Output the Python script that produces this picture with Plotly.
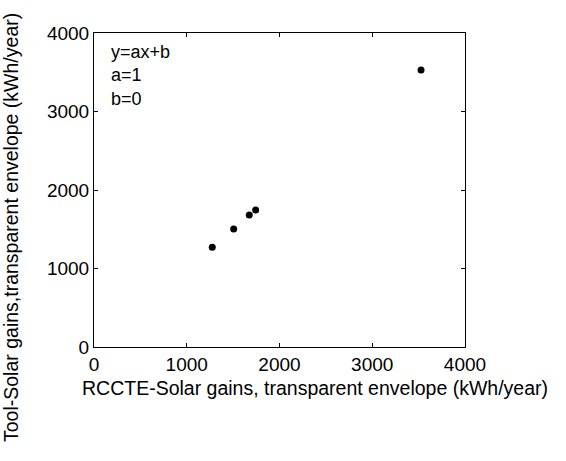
import plotly.graph_objects as go

# Solar gains through the transparent envelope (kWh/year)
rccte_gains = [1275, 1506, 1674, 1743, 3526]
tool_gains = [1272, 1503, 1682, 1745, 3529]

tick_vals = [0, 1000, 2000, 3000, 4000]
tick_text = ["0", "1000", "2000", "3000", "4000"]

x_title = "RCCTE-Solar gains, transparent envelope (kWh/year)"
y_title = "Tool-Solar gains,transparent envelope (kWh/year)"
fit_text = "y=ax+b<br>a=1<br>b=0"

FONT = "Liberation Sans, Arial, sans-serif"
FS = 19.5

fig = go.Figure()
fig.add_trace(go.Scatter(
    x=rccte_gains, y=tool_gains, mode="markers",
    marker=dict(color="black", size=7),
    showlegend=False, cliponaxis=False,
))

axis_common = dict(
    range=[0, 4000], tickvals=tick_vals, ticktext=tick_text,
    ticks="inside", ticklen=4, tickcolor="black", tickwidth=1,
    showline=True, linecolor="black", linewidth=1, mirror="ticks",
    showgrid=False, zeroline=False,
    tickfont=dict(family=FONT, size=19, color="black"),
)

fig.update_layout(
    width=566, height=461,
    margin=dict(l=94, r=101, t=33, b=114),
    paper_bgcolor="white", plot_bgcolor="white",
    xaxis=dict(**axis_common),
    yaxis=dict(**axis_common),
    font=dict(family=FONT, size=FS, color="black"),
    annotations=[
        dict(text=fit_text, xref="paper", yref="paper",
             x=(109 - 94) / 371, y=(347 - 40) / 314,
             xanchor="left", yanchor="top", align="left",
             showarrow=False, font=dict(family=FONT, size=18, color="black")),
        dict(text=x_title, xref="paper", yref="paper",
             x=(315 - 94) / 371, y=(347 - 388) / 314,
             xanchor="center", yanchor="middle",
             showarrow=False, font=dict(family=FONT, size=FS, color="black")),
        dict(text=y_title, xref="paper", yref="paper",
             x=(11 - 94) / 371, y=(347 - 228) / 314,
             xanchor="center", yanchor="middle", textangle=-90,
             showarrow=False, font=dict(family=FONT, size=FS, color="black")),
    ],
)

fig.write_html("out.html")
